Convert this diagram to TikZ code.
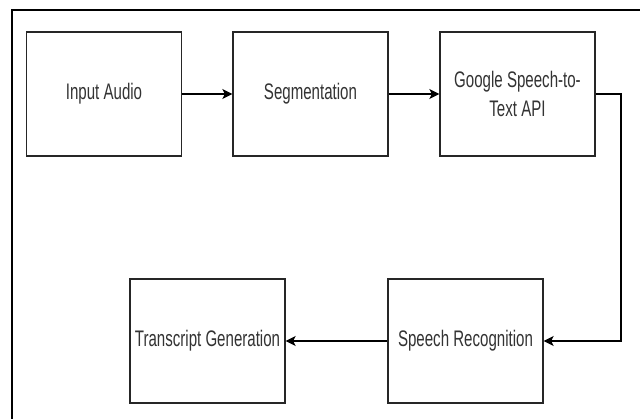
\documentclass[tikz,border=0pt]{standalone}
\usepackage{fontspec}
\newfontfamily\boxfont{Liberation Sans}[FakeStretch=0.67]
\usetikzlibrary{arrows.meta}
\definecolor{txt}{rgb}{0.2,0.2,0.2}
\definecolor{edge}{rgb}{0.15,0.15,0.15}
\tikzset{
  stagebox/.style={draw=edge, line width=1.3pt, fill=white, minimum width=155pt, minimum height=124pt,
    inner sep=0pt, align=center, text=txt, font=\boxfont\fontsize{22.5pt}{29pt}\selectfont},
  flow/.style={draw=black, line width=1.4pt, -{Stealth[length=10pt,width=10pt,inset=2.5pt]}},
}
\begin{document}
\begin{tikzpicture}[x=1pt,y=-1pt]
\useasboundingbox (0,0) rectangle (640,419);
\begin{scope}
\clip (0,0) rectangle (640,419);
\draw[line width=2pt, black] (12,10.5) rectangle (680,460);
\end{scope}
\node[stagebox] (ia) at (104,94) {Input Audio};
\node[stagebox] (seg) at (310.5,94) {Segmentation};
\node[stagebox] (gapi) at (517.5,94) {Google Speech-to-\\Text API};
\node[stagebox] (tg) at (207.5,341) {Transcript Generation};
\node[stagebox] (sr) at (465.5,341) {Speech Recognition};
\coordinate (turn) at (621,94);
\draw[flow] (ia) -- (seg);
\draw[flow] (seg) -- (gapi);
\draw[flow] (gapi.east) -- (turn) |- (sr.east);
\draw[flow] (sr) -- (tg);
\end{tikzpicture}
\end{document}
